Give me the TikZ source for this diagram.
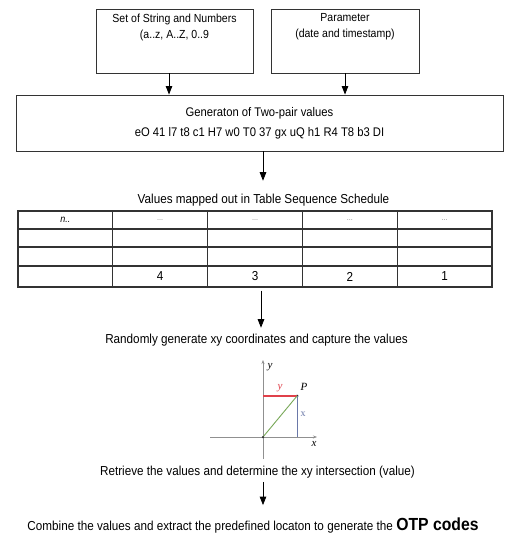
\documentclass[tikz,border=0pt]{standalone}
\usepackage{fontspec}
\setmainfont[FakeStretch=0.9]{Liberation Sans}
\newfontfamily\graphfont{Liberation Serif}
\usetikzlibrary{arrows.meta}
\definecolor{boxline}{HTML}{333333}
\definecolor{redline}{HTML}{E0404A}
\definecolor{blueline}{HTML}{6A78A8}
\definecolor{greenline}{HTML}{78A858}
\definecolor{axisgray}{HTML}{909090}
\tikzset{
  box/.style={draw=boxline, line width=0.9pt, rectangle, inner sep=0pt},
  boxtext/.style={inner sep=0pt, align=center, font=\fontsize{11.7}{16}\selectfont},
  lbl/.style={inner sep=0pt, font=\fontsize{13}{15}\selectfont},
  arr/.style={line width=0.8pt, -{Triangle[width=6.5pt,length=8.5pt]}},
  cell/.style={draw=boxline, line width=1.1pt, rectangle, inner sep=0pt, font=\fontsize{13}{14}\selectfont},
  gl/.style={inner sep=0pt, font=\graphfont\itshape\fontsize{11}{12}\selectfont},
  dotp/.style={circle, fill=black!80, inner sep=0pt, minimum size=3pt}
}
\begin{document}
\begin{tikzpicture}[x=1pt,y=-1pt]
\useasboundingbox (0,0) rectangle (515,548);
\fill[white] (0,0) rectangle (515,548);
% top boxes
\node[box, minimum width=157pt, minimum height=64pt] (b1) at (174.5,41) {};
\node[boxtext] (b1t) at (174.5,27) {Set of String and Numbers\\(a..z, A..Z, 0..9};
\node[box, minimum width=148pt, minimum height=64pt] (b2) at (345,41) {};
\node[boxtext] (b2t) at (345,27) {Parameter\\(date and timestamp)};
\node[box, minimum width=487pt, minimum height=56pt, align=center, font=\fontsize{12.5}{20}\selectfont] (gen) at (259.5,123) {Generaton of Two-pair values\\eO 41 l7 t8 c1 H7 w0 T0 37 gx uQ h1 R4 T8 b3 DI};
\coordinate (a1) at (169,0);
\coordinate (a2) at (345,0);
\draw[arr] (b1.south -| a1) -- (gen.north -| a1);
\draw[arr] (b2.south -| a2) -- (gen.north -| a2);
% table title
\coordinate (a3) at (263,0);
\node[lbl] (tt) at (263.5,200) {Values mapped out in Table Sequence Schedule};
\draw[arr, shorten >=13pt] (gen.south -| a3) -- (tt.north -| a3);
% table
\foreach \i in {0,1,2,3,4} {
  \foreach \r/\h/\yy in {1/18/220, 2/18/238, 3/19/256.5, 4/21/276.5} {
    \node[cell, minimum width=94.8pt, minimum height=\h pt] (c\r\i) at ({18+47.4+94.8*\i},\yy) {};
  }
}
\node[font=\itshape\fontsize{10}{10}\selectfont] (tn) at (c10) {n..};
\foreach \i in {1,2,3,4} { \node[font=\fontsize{8}{10}\selectfont, text=black!45] (td\i) at (c1\i) {...}; }
\node[font=\fontsize{13}{13}\selectfont] (t4) at (c41) {4};
\node[font=\fontsize{13}{13}\selectfont] (t3) at (c42) {3};
\node[font=\fontsize{13}{13}\selectfont] (t2) at (c43) {2};
\node[font=\fontsize{13}{13}\selectfont] (t1) at (c44) {1};
% randomly generate
\node[lbl] (rg) at (256.5,340) {Randomly generate xy coordinates and capture the values};
\coordinate (a4) at (261,0);
\draw[arr, shorten <=3pt, shorten >=6pt] (c42.south -| a4) -- (rg.north -| a4);
% graph
\coordinate (O) at (263,437);
\coordinate (Ytop) at (263,360);
\coordinate (Ybot) at (263,459);
\coordinate (Xl) at (210,437);
\coordinate (Xr) at (317,437);
\node[dotp] (P) at (297,396) {};
\coordinate (Py) at (263,396);
\coordinate (Px) at (297,437);
\draw[axisgray, line width=0.7pt, -{Stealth[length=4pt,width=3pt]}] (Ybot) -- (Ytop);
\draw[axisgray, line width=0.7pt, -{Stealth[length=4pt,width=3pt]}] (Xl) -- (Xr);
\draw[redline, line width=1.2pt] (Py) -- (P.center);
\draw[blueline, line width=0.9pt] (P.center) -- (Px);
\draw[greenline, line width=0.9pt] (O) -- (P.center);
\node[dotp, minimum size=2.5pt] (On) at (O) {};
\node[gl] (ly) at (270,367) {y};
\node[gl] (lP) at (304,387) {P};
\node[gl, text=redline] (ry) at (280,388) {y};
\node[inner sep=0pt, text=blueline, font=\graphfont\fontsize{10}{12}\selectfont] (bx) at (303,414) {x};
\node[gl] (lx) at (314,444) {x};
% retrieve
\node[lbl] (rt) at (257.5,472) {Retrieve the values and determine the xy intersection (value)};
\node[lbl] (cb) at (253,526) {Combine the values and extract the predefined locaton to generate the {\bfseries\fontsize{17.5}{17.5}\selectfont OTP codes}};
\coordinate (a5) at (263,0);
\draw[arr, shorten <=3.5pt, shorten >=13pt] (rt.south -| a5) -- (cb.north -| a5);
\end{tikzpicture}
\end{document}
